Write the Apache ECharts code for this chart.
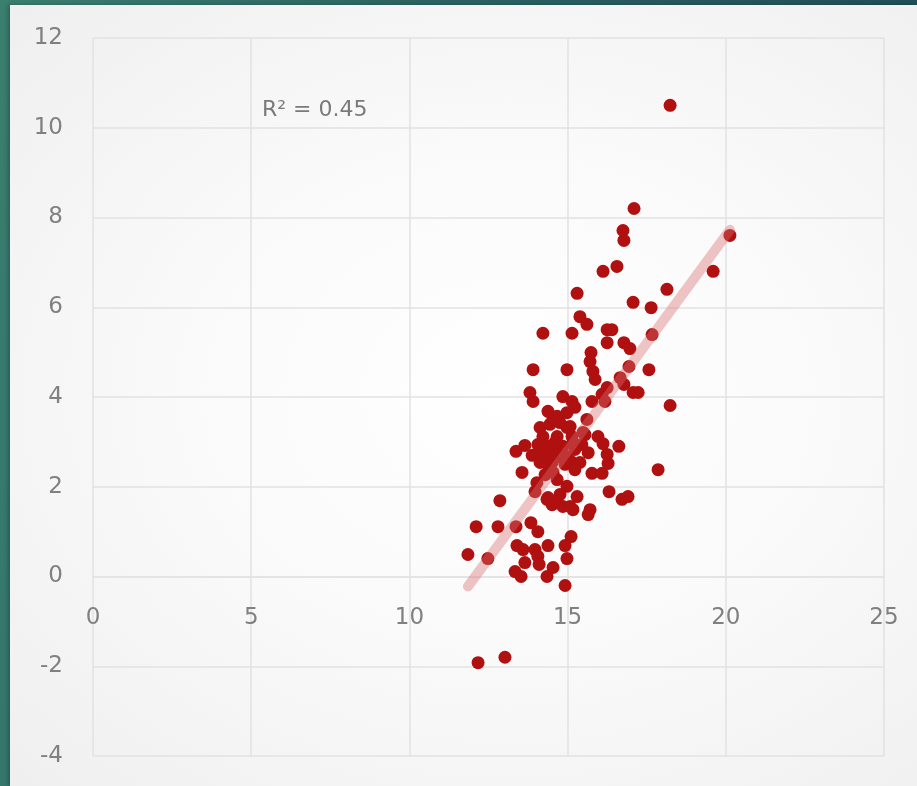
<!DOCTYPE html>
<html>
<head>
<meta charset="utf-8">
<script src="https://cdn.jsdelivr.net/npm/echarts@6/dist/echarts.min.js"></script>
<style>
  html, body { margin: 0; padding: 0; width: 917px; height: 786px; overflow: hidden; }
  body { background: linear-gradient(100deg, #3a7f70 0%, #2c6462 40%, #1d4956 100%); position: relative; }
  #panel {
    position: absolute; left: 10px; top: 5px; width: 907px; height: 781px;
    background: radial-gradient(ellipse at 55% 50%, #ffffff 0%, #fafafa 45%, #efefef 100%);
    box-shadow: -2px 0 4px rgba(0,0,0,0.25);
  }
  #chart { position: absolute; left: 0; top: 0; width: 917px; height: 786px; }
</style>
</head>
<body>
<div id="panel"></div>
<div id="chart"></div>
<script>
// Scatter sample: x values and matching y values
const xValues = [
  18.24, 17.10, 16.75, 16.78, 20.13, 16.12, 16.56, 19.60, 15.30, 18.14,
  17.07, 17.64, 15.39, 15.61, 14.22, 15.14, 16.25, 16.40, 17.67, 16.25,
  16.78, 16.97, 15.74, 15.71, 15.80, 15.87, 13.91, 14.98, 16.94, 17.57,
  16.66, 16.78, 17.07, 17.23, 16.25, 16.09, 13.81, 13.91, 14.85, 15.14,
  15.77, 16.18, 18.24, 14.38, 15.23, 14.54, 15.61, 14.13, 14.76, 14.98,
  14.22, 14.67, 15.14, 15.55, 15.96, 16.12, 14.38, 14.85, 16.62, 15.65,
  16.25, 16.28, 15.77, 16.09, 15.11, 15.39, 15.23, 14.98, 13.37, 13.65,
  13.88, 14.19, 14.35, 14.51, 14.67, 14.13, 13.56, 14.54, 14.67, 14.03,
  13.97, 14.98, 15.30, 16.31, 14.35, 14.51, 14.67, 14.85, 15.08, 15.17,
  15.71, 15.65, 16.72, 16.91, 12.86, 17.86, 15.17, 14.76, 12.11, 12.80,
  13.37, 13.84, 14.06, 15.11, 13.40, 13.59, 13.97, 14.06, 14.38, 14.92,
  13.65, 14.10, 14.98, 14.54, 14.35, 13.34, 13.53, 14.92, 11.85, 12.48,
  12.17, 13.02, 14.67, 15.08, 14.41, 14.41, 14.38, 14.98, 15.49, 14.60,
  14.92, 14.29, 14.76, 15.45, 14.44, 15.23, 14.06
];
const yValues = [
  10.50, 8.20, 7.71, 7.49, 7.60, 6.80, 6.91, 6.80, 6.31, 6.40,
  6.11, 5.99, 5.79, 5.62, 5.42, 5.42, 5.50, 5.50, 5.39, 5.21,
  5.21, 5.08, 4.99, 4.79, 4.57, 4.39, 4.61, 4.61, 4.68, 4.61,
  4.43, 4.28, 4.10, 4.10, 4.21, 4.06, 4.10, 3.90, 4.01, 3.90,
  3.90, 3.90, 3.81, 3.68, 3.77, 3.54, 3.50, 3.32, 3.43, 3.32,
  3.12, 3.12, 3.12, 3.16, 3.12, 2.96, 2.90, 2.90, 2.90, 2.76,
  2.72, 2.52, 2.30, 2.30, 2.56, 2.54, 2.38, 2.67, 2.79, 2.92,
  2.70, 2.76, 2.65, 2.54, 2.67, 2.54, 2.32, 2.32, 2.16, 2.09,
  1.89, 2.01, 1.78, 1.89, 1.72, 1.60, 1.67, 1.56, 1.56, 1.49,
  1.49, 1.38, 1.72, 1.78, 1.69, 2.38, 2.99, 2.90, 1.11, 1.11,
  1.11, 1.20, 1.00, 0.89, 0.69, 0.60, 0.60, 0.45, 0.69, 0.69,
  0.31, 0.27, 0.40, 0.20, 0.00, 0.11, 0.00, -0.20, 0.49, 0.40,
  -1.92, -1.80, 3.57, 3.34, 2.83, 2.45, 1.76, 3.65, 3.21, 2.99,
  2.50, 2.27, 1.83, 2.94, 3.39, 2.83, 2.94
];

// Linear trend fitted to the sample
const trendSlope = 0.96;
const trendIntercept = -11.60;
const rSquaredText = 'R² = 0.45';

// Axis ranges
const xRange = { min: 0, max: 25, step: 5 };
const yRange = { min: -4, max: 12, step: 2 };

const points = xValues.map((x, i) => [x, yValues[i]]);
const xLo = Math.min(...xValues);
const xHi = Math.max(...xValues);
const trendPoints = [
  [xLo, trendSlope * xLo + trendIntercept],
  [xHi, trendSlope * xHi + trendIntercept]
];

const labelFont = '"DejaVu Sans", "Noto Sans", sans-serif';
const gridColor = '#e2e2e2';

// Plot box in pixels; the x axis labels sit on the y = 0 line
const plotTop = 38, plotBottom = 30, plotHeight = 786 - plotTop - plotBottom;
const zeroOffset = -plotHeight * (0 - yRange.min) / (yRange.max - yRange.min);

const chart = echarts.init(document.getElementById('chart'), null, { renderer: 'canvas' });
chart.setOption({
  backgroundColor: 'transparent',
  animation: false,
  grid: { left: 93, right: 33, top: plotTop, bottom: plotBottom, containLabel: false },
  xAxis: {
    type: 'value',
    position: 'bottom',
    offset: zeroOffset,
    min: xRange.min, max: xRange.max, interval: xRange.step,
    axisLine: { show: true, onZero: false, lineStyle: { color: gridColor, width: 1.5 } },
    axisTick: { show: false },
    axisLabel: { color: '#808080', fontSize: 23, fontFamily: labelFont, margin: 30 },
    splitLine: { show: true, lineStyle: { color: gridColor, width: 1.5 } }
  },
  yAxis: {
    type: 'value',
    min: yRange.min, max: yRange.max, interval: yRange.step,
    axisLine: { show: false },
    axisTick: { show: false },
    axisLabel: { color: '#808080', fontSize: 23, fontFamily: labelFont, margin: 30 },
    splitLine: { show: true, lineStyle: { color: gridColor, width: 1.5 } }
  },
  graphic: [{
    type: 'text',
    left: 262, top: 99,
    style: { text: rSquaredText, fill: '#7a7a7a', font: '22px ' + labelFont }
  }],
  series: [
    {
      type: 'scatter',
      data: points,
      symbol: 'circle',
      symbolSize: 13,
      itemStyle: { color: '#b01010', opacity: 1 },
      z: 2
    },
    {
      type: 'line',
      data: trendPoints,
      showSymbol: false,
      symbol: 'none',
      lineStyle: { color: 'rgba(215,110,110,0.4)', width: 10, cap: 'round' },
      z: 3,
      silent: true
    }
  ]
});
</script>
</body>
</html>
